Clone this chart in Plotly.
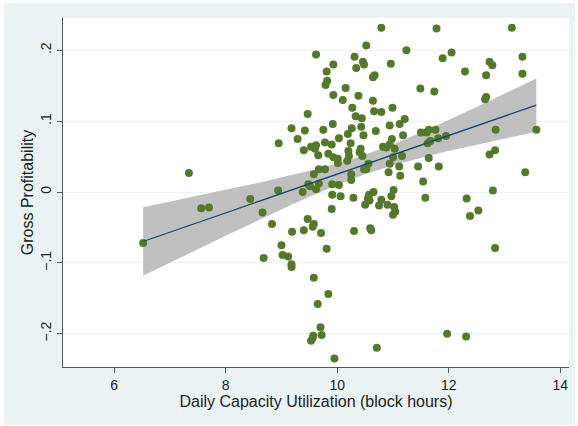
import numpy as np
import plotly.graph_objects as go

# Daily capacity utilization (block hours)
util = [6.52, 7.34, 7.56, 7.70, 8.44, 8.66, 8.68, 8.83, 8.94, 8.95,
        9.00, 9.02, 9.12, 9.18, 9.18, 9.19, 9.18, 9.29, 9.38, 9.40,
        9.40, 9.42, 9.47, 9.47, 9.48, 9.51, 9.53, 9.53, 9.56, 9.57,
        9.58, 9.58, 9.56, 9.58, 9.60, 9.62, 9.62, 9.62, 9.65, 9.66,
        9.67, 9.67, 9.70, 9.71, 9.72, 9.75, 9.78, 9.78, 9.79, 9.81,
        9.81, 9.82, 9.84, 9.84, 9.90, 9.90, 9.91, 9.91, 9.92, 9.93,
        9.93, 9.93, 9.95, 10.01, 10.01, 10.03, 10.03, 10.06, 10.10, 10.15,
        10.18, 10.19, 10.20, 10.21, 10.24, 10.25, 10.25, 10.26, 10.27, 10.29,
        10.30, 10.31, 10.33, 10.34, 10.38, 10.40, 10.42, 10.43, 10.44, 10.45,
        10.46, 10.47, 10.48, 10.48, 10.50, 10.52, 10.52, 10.55, 10.56, 10.57,
        10.58, 10.59, 10.61, 10.64, 10.64, 10.65, 10.66, 10.67, 10.69, 10.71,
        10.75, 10.79, 10.79, 10.79, 10.82, 10.88, 10.90, 10.92, 10.94, 10.94,
        10.94, 10.96, 10.97, 10.98, 10.99, 11.00, 11.00, 11.01, 11.02, 11.03,
        11.04, 11.11, 11.12, 11.13, 11.16, 11.18, 11.21, 11.24, 11.45, 11.49,
        11.50, 11.54, 11.58, 11.60, 11.62, 11.64, 11.64, 11.67, 11.74, 11.76,
        11.78, 11.81, 11.82, 11.89, 11.95, 11.97, 12.05, 12.29, 12.32, 12.31,
        12.38, 12.53, 12.65, 12.67, 12.67, 12.73, 12.73, 12.78, 12.79, 12.83,
        12.83, 12.84, 13.13, 13.32, 13.32, 13.37, 13.57]

# Gross profitability
profit = [-0.072, 0.027, -0.023, -0.022, -0.010, -0.029, -0.093, -0.045, 0.002, 0.069,
          -0.075, -0.089, -0.091, -0.102, -0.106, -0.056, 0.090, 0.075, 0.000, -0.054,
          0.059, 0.087, 0.110, -0.038, 0.011, 0.008, 0.064, -0.210, -0.206, -0.203,
          -0.121, -0.045, -0.049, 0.025, 0.061, 0.194, 0.066, 0.004, -0.158, 0.052,
          0.032, 0.012, -0.191, -0.058, -0.202, 0.088, 0.070, 0.032, 0.151, 0.170,
          -0.080, 0.157, 0.054, -0.144, 0.067, -0.024, 0.011, -0.004, 0.096, 0.180,
          0.137, 0.049, -0.235, 0.047, 0.041, 0.076, 0.010, -0.006, 0.130, 0.147,
          0.044, 0.082, 0.058, 0.051, 0.069, 0.025, 0.017, 0.090, 0.119, -0.008,
          -0.055, 0.191, 0.107, 0.175, 0.136, 0.056, 0.061, 0.092, 0.104, 0.051,
          0.184, 0.080, 0.180, 0.032, -0.018, 0.207, 0.032, -0.009, 0.040, -0.004,
          -0.012, -0.051, -0.054, 0.162, 0.129, 0.000, 0.114, 0.165, 0.086, -0.220,
          -0.019, -0.011, 0.113, 0.232, 0.064, 0.063, -0.018, 0.028, 0.094, 0.040,
          0.067, 0.181, -0.006, 0.075, 0.119, -0.032, 0.049, 0.003, -0.021, 0.061,
          -0.028, 0.036, 0.096, 0.023, 0.051, 0.080, 0.103, 0.200, 0.036, 0.146,
          0.084, 0.015, -0.008, 0.084, 0.069, 0.048, 0.088, 0.072, 0.142, 0.088,
          0.231, 0.076, 0.036, 0.189, 0.079, -0.200, 0.197, 0.170, -0.009, -0.204,
          -0.034, -0.026, 0.131, 0.134, 0.165, 0.053, 0.184, 0.179, 0.002, 0.059,
          -0.079, 0.088, 0.232, 0.191, 0.167, 0.028, 0.088]

x_ticks = [6, 8, 10, 12, 14]
y_ticks = [-0.2, -0.1, 0, 0.1, 0.2]
y_ticktext = ["\u2212.2", "\u2212.1", "0", ".1", ".2"]

# Linear fit with 95% CI (as Stata lfitci)
xa = np.array(util)
ya = np.array(profit)
n = len(xa)
b, a = np.polyfit(xa, ya, 1)
resid = ya - (a + b * xa)
s = np.sqrt(np.sum(resid ** 2) / (n - 2))
sxx = np.sum((xa - xa.mean()) ** 2)
xg = np.linspace(xa.min(), xa.max(), 100)
yg = a + b * xg
se = s * np.sqrt(1.0 / n + (xg - xa.mean()) ** 2 / sxx)
tval = 1.974
upper = yg + tval * se
lower = yg - tval * se

fig = go.Figure()
fig.add_trace(go.Scatter(
    x=np.concatenate([xg, xg[::-1]]), y=np.concatenate([upper, lower[::-1]]),
    fill="toself", fillcolor="#C0C0C0", line=dict(width=0), mode="lines",
    hoverinfo="skip", showlegend=False))
fig.add_trace(go.Scatter(
    x=util, y=profit, mode="markers",
    marker=dict(color="#55792A", size=8, line=dict(width=0)), showlegend=False))
fig.add_trace(go.Scatter(
    x=xg, y=yg, mode="lines", line=dict(color="#1A476F", width=1.3), showlegend=False))

L, R, T, B = 63, 9, 18, 59
W, H = 578, 426
pw, ph = W - L - R, H - T - B


def strip(x0, x1, y0, y1):
    return dict(type="rect", xref="paper", yref="paper", layer="above",
                x0=(x0 - L) / pw, x1=(x1 - L) / pw,
                y0=1 - (y1 - T) / ph, y1=1 - (y0 - T) / ph,
                fillcolor="white", line=dict(width=0))


fig.update_layout(
    width=W, height=H,
    margin=dict(l=L, r=R, t=T, b=B),
    paper_bgcolor="#EAF2F3", plot_bgcolor="white",
    font=dict(family="Liberation Sans, Arial, sans-serif", color="#222", size=14),
    shapes=[strip(0, 4, 0, H), strip(575, W, 0, H), strip(0, W, 0, 3), strip(0, W, 425, H)],
    xaxis=dict(range=[5.083, 14.155], tickvals=x_ticks, showgrid=False, zeroline=False,
               showline=True, linecolor="#555", linewidth=1,
               ticks="outside", ticklen=5, tickcolor="#555",
               tickfont=dict(size=14),
               title=dict(text="Daily Capacity Utilization (block hours)",
                          font=dict(size=16), standoff=0)),
    yaxis=dict(range=[-0.247, 0.2457], tickvals=y_ticks, ticktext=y_ticktext,
               tickangle=-90, showgrid=True, gridcolor="#EAF2F3", gridwidth=1,
               zeroline=False, showline=True, linecolor="#555", linewidth=1,
               ticks="outside", ticklen=5, tickcolor="#555",
               tickfont=dict(size=14),
               title=dict(text="Gross Profitability", font=dict(size=16), standoff=0)),
)

fig.write_html("out.html", config={"displayModeBar": False},
               post_script="document.body.style.margin='0';")
